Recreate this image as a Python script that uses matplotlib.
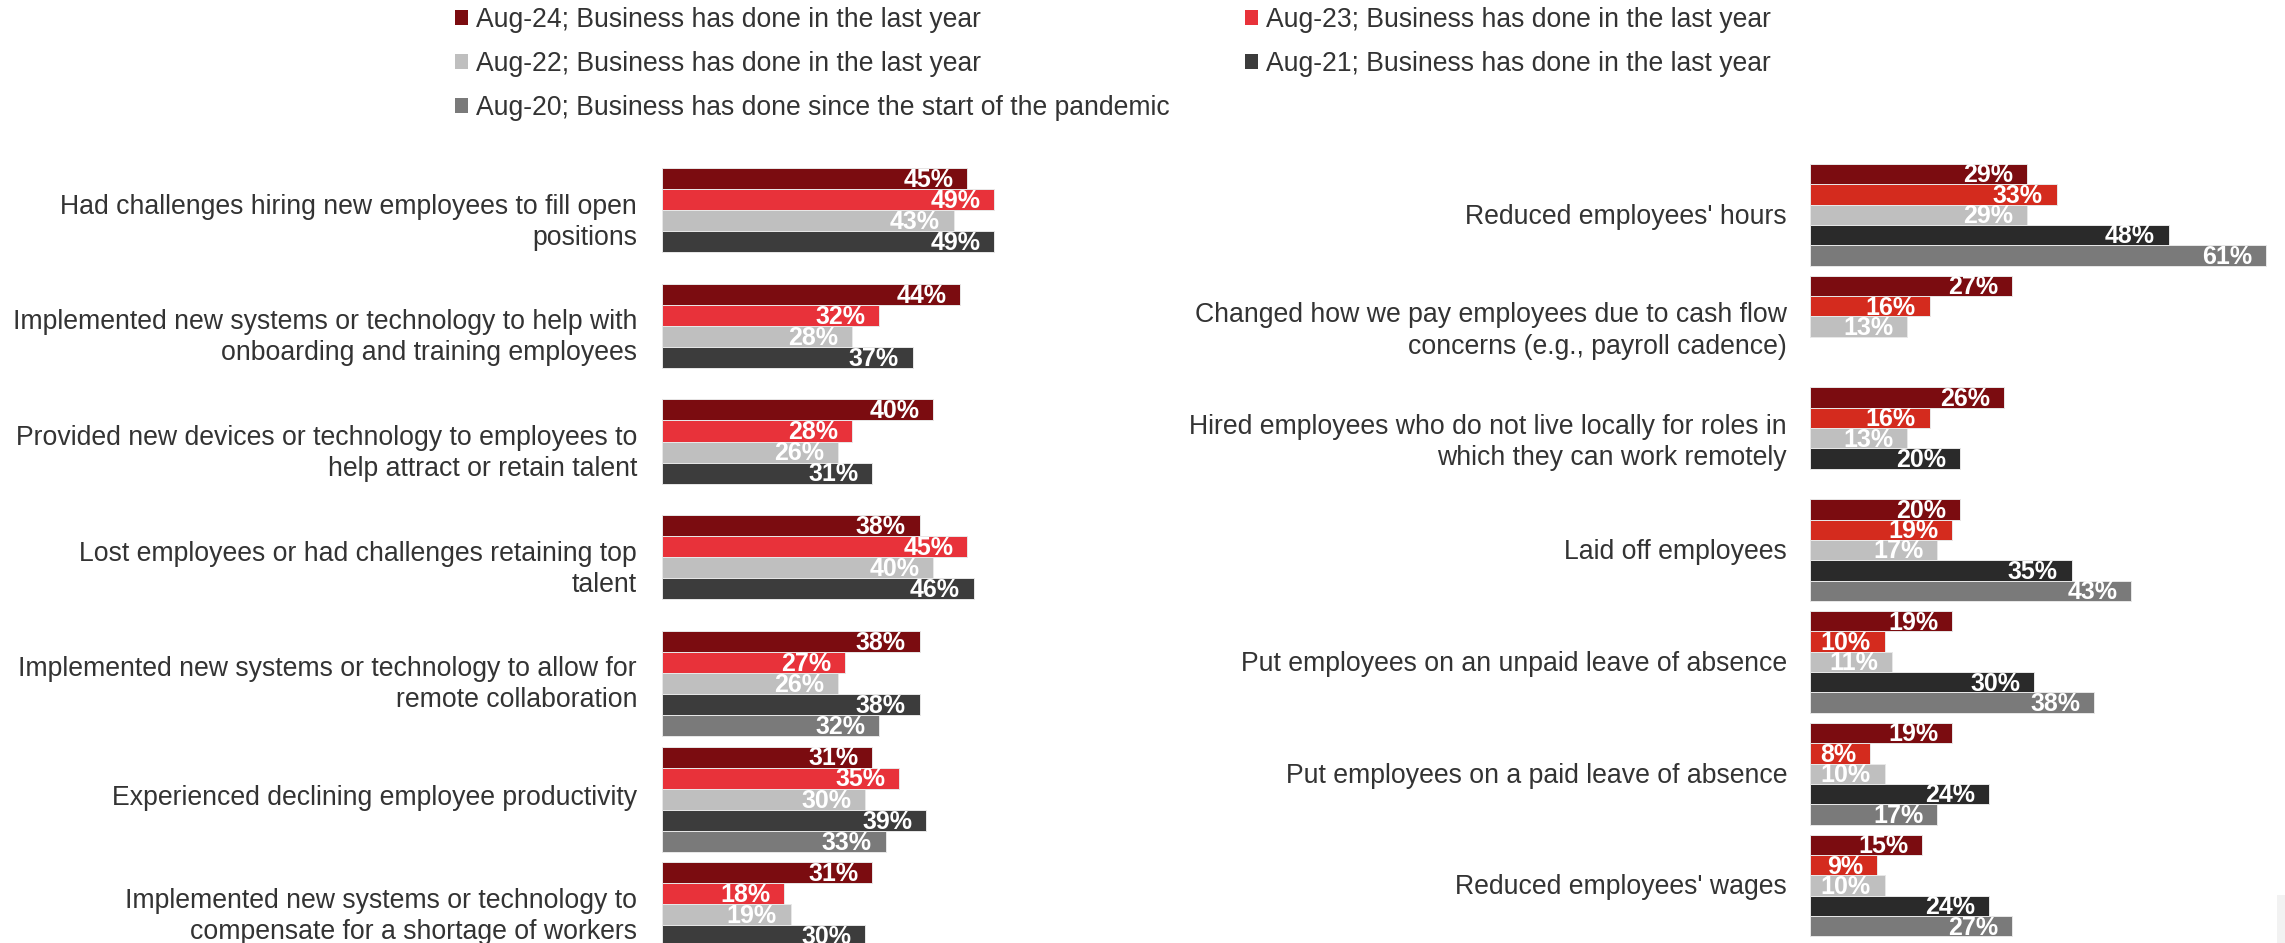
import numpy as np
import matplotlib
matplotlib.use("Agg")
import matplotlib.pyplot as plt
from matplotlib.patches import Patch, Rectangle
from matplotlib.transforms import ScaledTranslation

plt.rcParams['font.family'] = ['Liberation Sans', 'DejaVu Sans']

# series, top to bottom inside each group
series = [
    "Aug-24; Business has done in the last year",
    "Aug-23; Business has done in the last year",
    "Aug-22; Business has done in the last year",
    "Aug-21; Business has done in the last year",
    "Aug-20; Business has done since the start of the pandemic",
]

left_labels = [
    "Had challenges hiring new employees to fill open\npositions",
    "Implemented new systems or technology to help with\nonboarding and training employees",
    "Provided new devices or technology to employees to\nhelp attract or retain talent",
    "Lost employees or had challenges retaining top\ntalent",
    "Implemented new systems or technology to allow for\nremote collaboration",
    "Experienced declining employee productivity",
    "Implemented new systems or technology to\ncompensate for a shortage of workers",
]
left_aug24 = [45, 44, 40, 38, 38, 31, 31]
left_aug23 = [49, 32, 28, 45, 27, 35, 18]
left_aug22 = [43, 28, 26, 40, 26, 30, 19]
left_aug21 = [49, 37, 31, 46, 38, 39, 30]
left_aug20 = [np.nan, np.nan, np.nan, np.nan, 32, 33, np.nan]

right_labels = [
    "Reduced employees' hours",
    "Changed how we pay employees due to cash flow\nconcerns (e.g., payroll cadence)",
    "Hired employees who do not live locally for roles in\nwhich they can work remotely",
    "Laid off employees",
    "Put employees on an unpaid leave of absence",
    "Put employees on a paid leave of absence",
    "Reduced employees' wages",
]
right_aug24 = [29, 27, 26, 20, 19, 19, 15]
right_aug23 = [33, 16, 16, 19, 10, 8, 9]
right_aug22 = [29, 13, 13, 17, 11, 10, 10]
right_aug21 = [48, np.nan, 20, 35, 30, 24, 24]
right_aug20 = [61, np.nan, np.nan, 43, 38, 17, 27]

left_colors = ['#7B0C10', '#E8323A', '#BFBFBF', '#3C3C3C', '#7A7A7A']
right_colors = ['#7B0C10', '#D42B1E', '#BFBFBF', '#2A2A2A', '#7A7A7A']
text_color = '#333333'

W, H = 2285, 943
fig = plt.figure(figsize=(W / 100, H / 100), dpi=100)


def draw_panel(ax, labels, values, colors, xmax, pad, lift):
    bar_h = 0.182
    y = np.arange(len(labels))
    for j, vals in enumerate(values):
        offs = y + (j - 2) * bar_h
        vals = np.array(vals, dtype=float)
        ok = ~np.isnan(vals)
        ax.barh(offs[ok], vals[ok], height=bar_h, color=colors[j],
                edgecolor='#e8e8e8', linewidth=0.7)
        for yy, v in zip(offs[ok], vals[ok]):
            ax.annotate(f"{v:.0f}%", xy=(v, yy), xytext=(-10, -1),
                        textcoords='offset points', ha='right', va='center',
                        color='white', fontsize=18, fontweight='bold')
    ax.set_xlim(0, xmax)
    ax.set_ylim(len(labels) - 0.5, -0.5)
    ax.set_yticks(y)
    ax.set_yticklabels(labels, fontsize=19.2, color=text_color, linespacing=1.25)
    ax.tick_params(axis='y', length=0, pad=pad)
    # nudge category text up by `lift` pixels
    shift = ScaledTranslation(0, lift / 100, fig.dpi_scale_trans)
    for t in ax.get_yticklabels():
        t.set_transform(t.get_transform() + shift)
    ax.set_xticks([])
    for s in ax.spines.values():
        s.set_visible(False)
    ax.patch.set_alpha(0)


# left panel: 6.78 px per percent, 115.7 px per group
ax1 = fig.add_axes([662 / W, (H - 972.7) / H, 339 / W, 809.9 / H])
draw_panel(ax1, left_labels,
           [left_aug24, left_aug23, left_aug22, left_aug21, left_aug20],
           left_colors, 50, 18, 4)

# right panel: 7.475 px per percent, 111.8 px per group
ax2 = fig.add_axes([1810 / W, (H - 941.4) / H, 463.5 / W, 782.6 / H])
draw_panel(ax2, right_labels,
           [right_aug24, right_aug23, right_aug22, right_aug21, right_aug20],
           right_colors, 62, 16.5, 1)

# legend, two columns filled top-down
order = [0, 2, 4, 1, 3]
handles = [Patch(facecolor=left_colors[i], edgecolor='none') for i in order]
fig.legend(handles, [series[i] for i in order], ncol=2, loc='upper left',
           bbox_to_anchor=(455 / W, 1 - 7 / H), frameon=False, fontsize=19.1,
           handlelength=0.5, handleheight=0.5, handletextpad=0.28,
           columnspacing=2.85, labelspacing=0.68, borderpad=0, borderaxespad=0,
           labelcolor=text_color)

fig.patches.append(Rectangle((2277 / W, 0), 8 / W, 48 / H, transform=fig.transFigure,
                             facecolor='#f2f2f2', edgecolor='none'))

fig.savefig("out.png", dpi=100, facecolor='white')
